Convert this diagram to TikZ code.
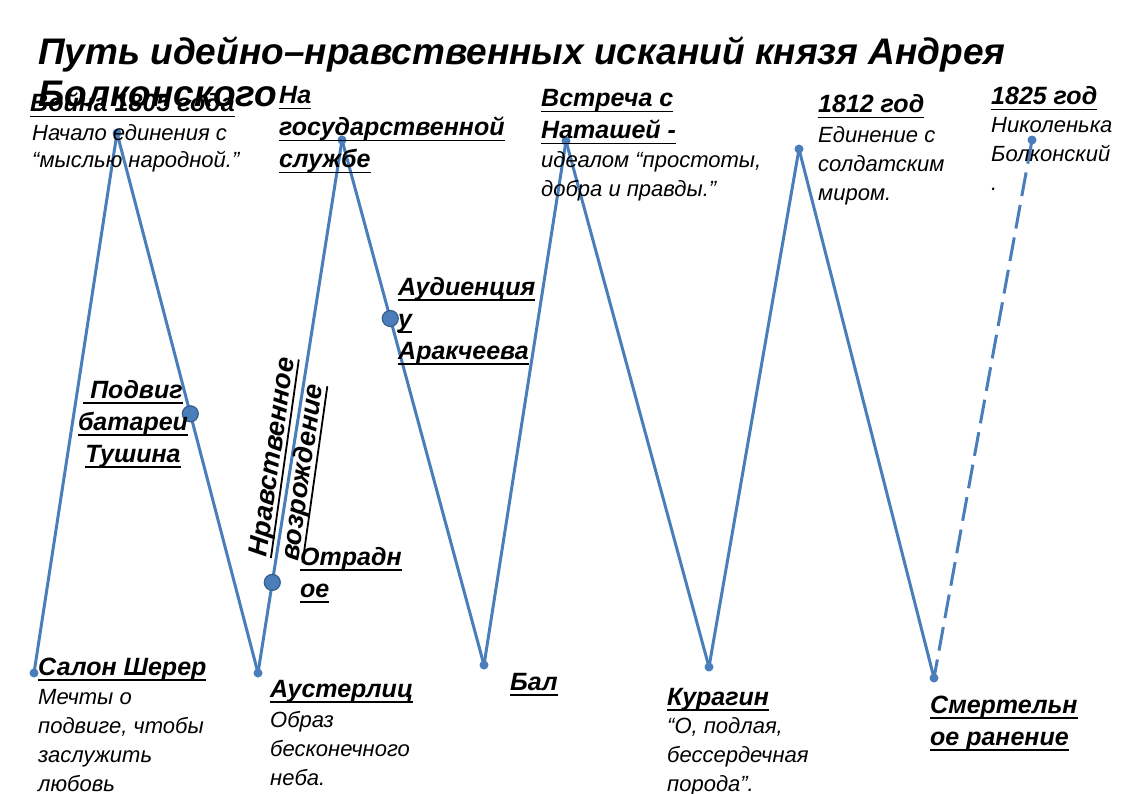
\documentclass[tikz,border=0pt]{standalone}
\usepackage{fontspec}
\setmainfont{Liberation Sans}
\usetikzlibrary{positioning}

\definecolor{lineblue}{HTML}{4A7EBB}
\definecolor{dotedge}{HTML}{385D8A}
\newsavebox{\hdbox}
\newcommand{\hdline}[1]{\sbox{\hdbox}{#1}\rlap{\rule[-5.5pt]{\wd\hdbox}{1.8pt}}\usebox{\hdbox}}

\begin{document}
\begin{tikzpicture}[x=1pt, y=-1pt]
    % Define styles
    \tikzset{
        title/.style={anchor=base west, align=left, inner sep=0pt, font=\fontsize{37}{42}\selectfont\bfseries\itshape},
        head/.style={anchor=base west, align=left, inner sep=0pt, font=\fontsize{25}{32}\selectfont\bfseries\itshape},
        body/.style={anchor=base west, align=left, inner sep=0pt, font=\fontsize{22}{29}\selectfont\itshape},
        zigzag/.style={draw=lineblue, line width=3pt},
        endpt/.style={circle, fill=lineblue, inner sep=0pt, minimum size=9pt},
        event/.style={circle, fill=lineblue, draw=dotedge, line width=1.2pt, inner sep=0pt, minimum size=16pt}
    }
    \useasboundingbox (0,0) rectangle (1134,794);

    % Turning points of the path
    \node [endpt] (salon) at (34,673) {};
    \node [endpt] (war) at (117,133) {};
    \node [endpt] (austerlitz) at (258,673) {};
    \node [endpt] (service) at (342,140) {};
    \node [endpt] (ball) at (484,665) {};
    \node [endpt] (natasha) at (566,141) {};
    \node [endpt] (kuragin) at (709,667) {};
    \node [endpt] (y1812) at (799,149) {};
    \node [endpt] (wound) at (934,678) {};
    \node [endpt] (y1825) at (1032,140) {};

    % The zigzag itself, with the events on its way
    \draw [zigzag] (salon.center) -- (war.center);
    \draw [zigzag] (war.center) -- node [event, pos=0.52] (feat) {} (austerlitz.center);
    \draw [zigzag] (austerlitz.center) -- node [event, pos=0.17] (otradnoe) {} (service.center);
    \draw [zigzag] (service.center) -- node [event, pos=0.34] (audience) {} (ball.center);
    \draw [zigzag] (ball.center) -- (natasha.center);
    \draw [zigzag] (natasha.center) -- (kuragin.center);
    \draw [zigzag] (kuragin.center) -- (y1812.center);
    \draw [zigzag] (y1812.center) -- (wound.center);
    \draw [zigzag, dash pattern=on 24pt off 9pt] (y1825.center) -- (wound.center);

    % Title (a node with several lines sits on its last line)
    \node [title] (title) at (38,107) {Путь идейно–нравственных исканий князя Андрея\\Болконского};

    % Upper labels
    \node [head] (warhead) at (30,112) {\hdline{Война 1805 года}};
    \node [body, font=\fontsize{22}{27}\selectfont\itshape] (warbody) at (32,168) {Начало единения с\\“мыслью народной.”};
    \node [head] (servicehead) at (279,168) {\hdline{На}\\\hdline{государственной}\\\hdline{службе}};
    \node [head] (natashahead) at (541,139) {\hdline{Встреча с}\\\hdline{Наташей -}};
    \node [body] (natashabody) at (541,197) {идеалом “простоты,\\добра и правды.”};
    \node [head] (head1812) at (818,113) {\hdline{1812 год}};
    \node [body] (body1812) at (818,201) {Единение с\\солдатским\\миром.};
    \node [head] (head1825) at (991,105) {\hdline{1825 год}};
    \node [body] (body1825) at (991,191) {Николенька\\Болконский\\.};

    % Middle labels
    \node [head] (audiencehead) at (398,359) {\hdline{Аудиенция}\\\hdline{у}\\\hdline{Аракчеева}};
    \node [head, anchor=base, align=center] (feathead) at (133,462) {\hdline{\ Подвиг}\\\hdline{батареи}\\\hdline{Тушина}};
    \node [head, rotate=82, font=\fontsize{27}{32}\selectfont\bfseries\itshape] (revival) at (298,562) {\hdline{Нравственное}\\\hdline{возрождение}};
    \node [head] (otradnoehead) at (300,597) {\hdline{Отрадн}\\\hdline{ое}};

    % Lower labels
    \node [head] (salonhead) at (38,675) {\hdline{Салон Шерер}};
    \node [body] (salonbody) at (38,791) {Мечты о\\подвиге, чтобы\\заслужить\\любовь};
    \node [head] (austerlitzhead) at (270,697) {\hdline{Аустерлиц}};
    \node [body] (austerlitzbody) at (270,785) {Образ\\бесконечного\\неба.};
    \node [head] (ballhead) at (510,690) {\hdline{Бал}};
    \node [head] (kuraginhead) at (667,705) {\hdline{Курагин}};
    \node [body] (kuraginbody) at (667,791) {“О, подлая,\\бессердечная\\порода”.};
    \node [head] (woundhead) at (930,745) {\hdline{Смертельн}\\\hdline{ое ранение}};
\end{tikzpicture}
\end{document}
